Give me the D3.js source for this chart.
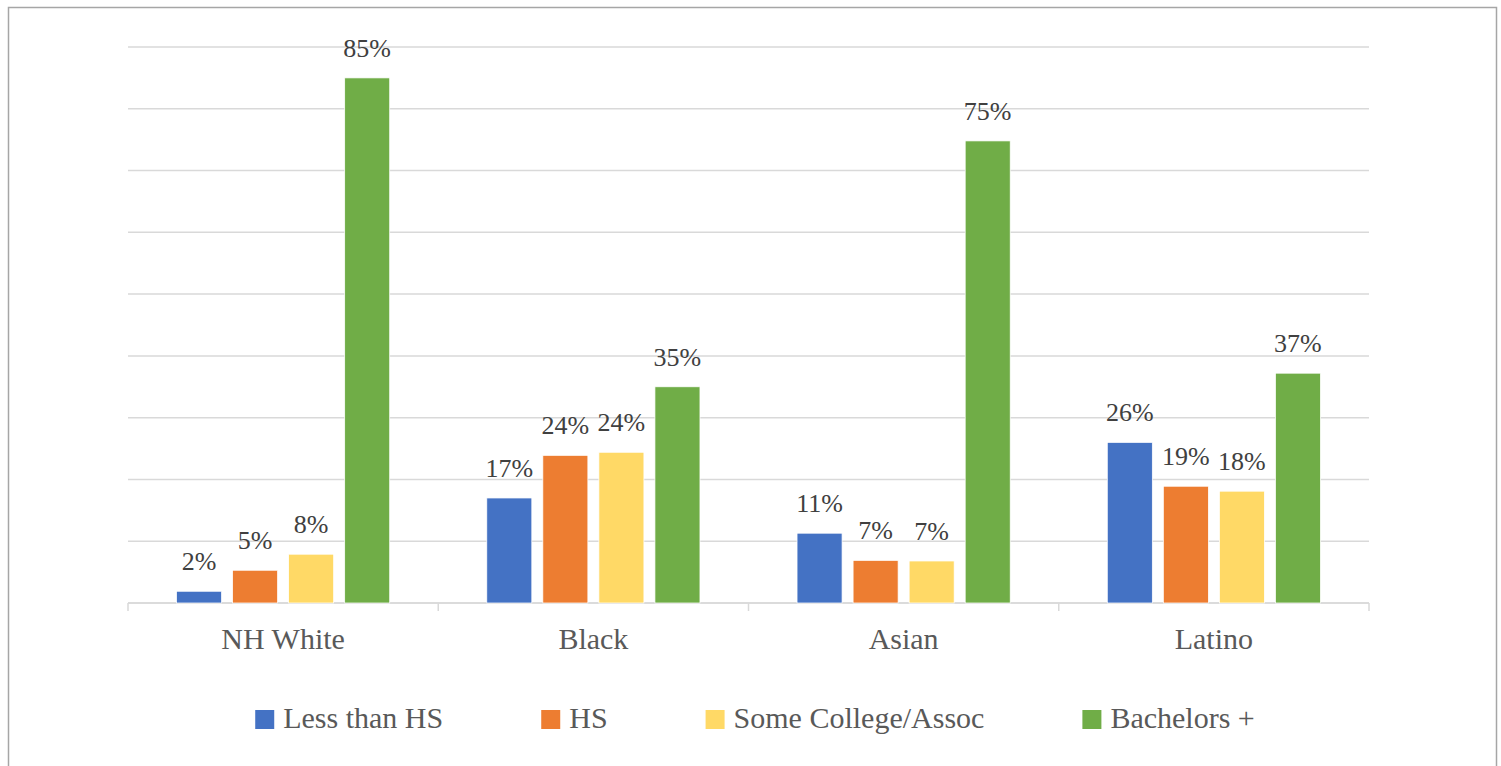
<!DOCTYPE html>
<html>
<head>
<meta charset="utf-8">
<script src="https://cdn.jsdelivr.net/npm/d3@7"></script>
<style>
  html, body { margin: 0; padding: 0; background: #fff; }
  svg { display: block; font-family: "Liberation Serif", "DejaVu Serif", serif; }
</style>
</head>
<body>
<svg id="chart" width="1501" height="766"></svg>
<script>
// categories + series
const groups = ["NH White", "Black", "Asian", "Latino"];
const seriesNames = ["Less than HS", "HS", "Some College/Assoc", "Bachelors +"];
const lessThanHS = [1.9, 17, 11.3, 26];
const hs = [5.3, 23.9, 6.9, 18.9];
const someCollege = [7.9, 24.4, 6.8, 18.1];
const bachelors = [85, 35, 74.8, 37.2];
const yTicks = [0, 10, 20, 30, 40, 50, 60, 70, 80, 90];
const colors = ["#4472C4", "#ED7D31", "#FFD966", "#70AD47"];

const svg = d3.select("#chart");
const W = 1501, H = 766;
const plot = { left: 128, right: 1369, top: 47, bottom: 603 };

// frame (no bottom edge in the picture)
svg.append("path")
    .attr("d", `M8.5,${H + 5} V7.5 H1496.5 V${H + 5}`)
    .attr("fill", "none")
    .attr("stroke", "#a6a6a6")
    .attr("stroke-width", 1.5);

const x = d3.scaleBand().domain(groups).range([plot.left, plot.right]);
const xInner = d3.scaleBand().domain(seriesNames)
    .range([0, x.bandwidth()])
    .paddingInner(11 / 56)
    .paddingOuter(0.866);
const y = d3.scaleLinear().domain([0, 90]).range([plot.bottom, plot.top]);

// gridlines
svg.append("g")
    .selectAll("line")
    .data(yTicks)
    .join("line")
    .attr("x1", plot.left)
    .attr("x2", plot.right)
    .attr("y1", d => y(d))
    .attr("y2", d => y(d))
    .attr("stroke", "#d9d9d9")
    .attr("stroke-width", 1.5);

// category axis with boundary ticks
const xAxis = svg.append("g");
xAxis.append("line")
    .attr("x1", plot.left).attr("x2", plot.right)
    .attr("y1", plot.bottom).attr("y2", plot.bottom)
    .attr("stroke", "#d9d9d9").attr("stroke-width", 1.5);
const bounds = groups.map(g => x(g)).concat([plot.right]);
xAxis.selectAll(".tick")
    .data(bounds)
    .join("line")
    .attr("x1", d => d).attr("x2", d => d)
    .attr("y1", plot.bottom).attr("y2", plot.bottom + 8)
    .attr("stroke", "#d9d9d9").attr("stroke-width", 1.5);
xAxis.selectAll("text")
    .data(groups)
    .join("text")
    .attr("x", d => x(d) + x.bandwidth() / 2)
    .attr("y", 649)
    .attr("text-anchor", "middle")
    .attr("font-size", 30)
    .attr("fill", "#595959")
    .text(d => d);

// bars
const allSeries = [lessThanHS, hs, someCollege, bachelors];
const rows = [];
groups.forEach((g, gi) => {
    seriesNames.forEach((s, si) => {
        rows.push({ group: g, series: s, idx: si, value: allSeries[si][gi] });
    });
});

svg.append("g")
    .selectAll("rect")
    .data(rows)
    .join("rect")
    .attr("x", d => x(d.group) + xInner(d.series))
    .attr("y", d => y(d.value))
    .attr("width", xInner.bandwidth())
    .attr("height", d => plot.bottom - y(d.value))
    .attr("fill", d => colors[d.idx])
    .attr("stroke", "#fff")
    .attr("stroke-width", 0.75);

svg.append("g")
    .selectAll("text")
    .data(rows)
    .join("text")
    .attr("x", d => x(d.group) + xInner(d.series) + xInner.bandwidth() / 2)
    .attr("y", d => y(d.value) - 21)
    .attr("text-anchor", "middle")
    .attr("font-size", 26)
    .attr("fill", "#404040")
    .text(d => Math.round(d.value) + "%");

// legend, laid out from measured text widths
const legend = svg.append("g");
const sq = 19, textGap = 9, itemGap = 98;
const items = legend.selectAll("g")
    .data(seriesNames)
    .join("g");
items.append("rect")
    .attr("width", sq).attr("height", sq)
    .attr("y", 710)
    .attr("fill", (d, i) => colors[i]);
items.append("text")
    .attr("x", sq + textGap)
    .attr("y", 728)
    .attr("font-size", 30)
    .attr("fill", "#595959")
    .text(d => d);

let widths = [];
items.select("text").each(function () { widths.push(this.getComputedTextLength()); });
const total = d3.sum(widths) + seriesNames.length * (sq + textGap) + (seriesNames.length - 1) * itemGap;
let cursor = 755 - total / 2;
items.attr("transform", (d, i) => {
    const t = `translate(${cursor},0)`;
    cursor += sq + textGap + widths[i] + itemGap;
    return t;
});
</script>
</body>
</html>
